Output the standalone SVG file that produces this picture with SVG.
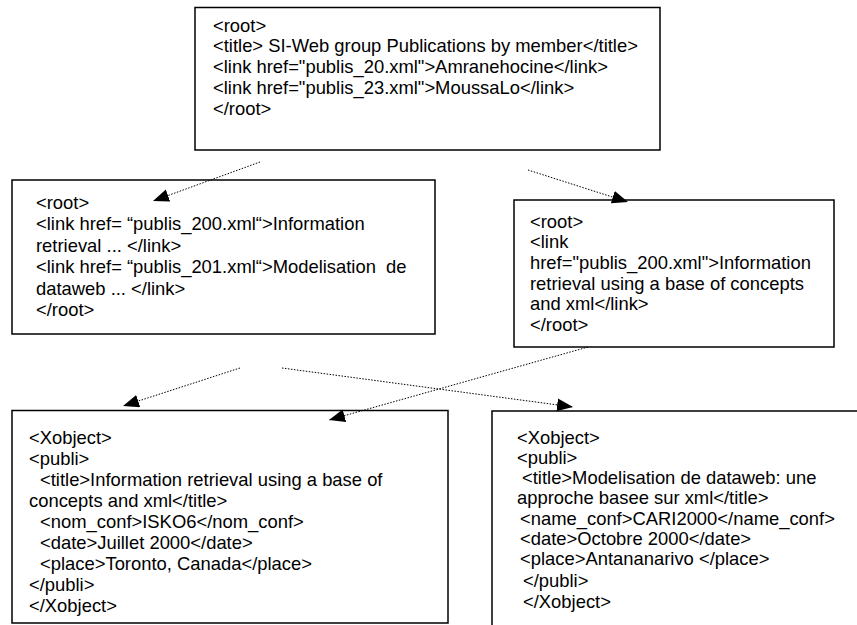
<svg xmlns="http://www.w3.org/2000/svg" width="857" height="625" viewBox="0 0 857 625">
<style>
.box{fill:#fff;stroke:#000;stroke-width:1.5}
text{font-family:"Liberation Sans",Arial,sans-serif;font-size:18.4px;fill:#000;white-space:pre}
.con{fill:none;stroke:#000;stroke-width:1;stroke-dasharray:1.5 1.5}
</style>
<defs>
<marker id="ah" markerUnits="userSpaceOnUse" markerWidth="18" markerHeight="14" refX="16" refY="6.5" orient="auto">
<path d="M0,0 L16,6.5 L0,13 Z" fill="#000"/>
</marker>
</defs>
<rect width="857" height="625" fill="#fff"/>
<g id="n-top">
<rect class="box" x="195" y="7.5" width="465" height="142.5"/>
<text x="213" y="31.5">&lt;root&gt;</text>
<text x="213" y="52.3">&lt;title&gt; SI-Web group Publications by member&lt;/title&gt;</text>
<text x="213" y="73.1">&lt;link href="publis_20.xml"&gt;Amranehocine&lt;/link&gt;</text>
<text x="213" y="93.9">&lt;link href="publis_23.xml"&gt;MoussaLo&lt;/link&gt;</text>
<text x="213" y="114.7">&lt;/root&gt;</text>
</g>
<g id="n-left">
<rect class="box" x="12" y="180" width="423" height="154"/>
<text x="36" y="208.5">&lt;root&gt;</text>
<text x="36" y="230">&lt;link href= “publis_200.xml“&gt;Information</text>
<text x="36" y="251.5">retrieval ... &lt;/link&gt;</text>
<text x="36" y="273">&lt;link href= “publis_201.xml“&gt;Modelisation  de</text>
<text x="36" y="294.5">dataweb ... &lt;/link&gt;</text>
<text x="36" y="316">&lt;/root&gt;</text>
</g>
<g id="n-right">
<rect class="box" x="514" y="200" width="320" height="147"/>
<text x="530" y="227.5">&lt;root&gt;</text>
<text x="530" y="248.2">&lt;link</text>
<text x="530" y="268.9">href="publis_200.xml"&gt;Information</text>
<text x="530" y="289.6">retrieval using a base of concepts</text>
<text x="530" y="310.3">and xml&lt;/link&gt;</text>
<text x="530" y="331">&lt;/root&gt;</text>
</g>
<g id="n-bl">
<rect class="box" x="12" y="410.5" width="436" height="212.5"/>
<text x="29" y="443.5">&lt;Xobject&gt;</text>
<text x="29" y="464.5">&lt;publi&gt;</text>
<text x="40" y="485.5">&lt;title&gt;Information retrieval using a base of</text>
<text x="29" y="506.5">concepts and xml&lt;/title&gt;</text>
<text x="40" y="527.5">&lt;nom_conf&gt;ISKO6&lt;/nom_conf&gt;</text>
<text x="40" y="548.5">&lt;date&gt;Juillet 2000&lt;/date&gt;</text>
<text x="40" y="569.5">&lt;place&gt;Toronto, Canada&lt;/place&gt;</text>
<text x="29" y="590.5">&lt;/publi&gt;</text>
<text x="29" y="611.5">&lt;/Xobject&gt;</text>
</g>
<g id="n-br">
<rect class="box" x="492" y="411" width="380" height="230"/>
<text x="517" y="443.5">&lt;Xobject&gt;</text>
<text x="517" y="463.8">&lt;publi&gt;</text>
<text x="522" y="484.1">&lt;title&gt;Modelisation de dataweb: une</text>
<text x="517" y="504.4">approche basee sur xml&lt;/title&gt;</text>
<text x="520" y="524.7">&lt;name_conf&gt;CARI2000&lt;/name_conf&gt;</text>
<text x="520" y="545">&lt;date&gt;Octobre 2000&lt;/date&gt;</text>
<text x="520" y="565.3">&lt;place&gt;Antananarivo &lt;/place&gt;</text>
<text x="523" y="587">&lt;/publi&gt;</text>
<text x="523" y="608">&lt;/Xobject&gt;</text>
</g>
<g id="connectors">
<line class="con" x1="260" y1="162" x2="153" y2="201" marker-end="url(#ah)"/>
<line class="con" x1="528" y1="170" x2="628" y2="202" marker-end="url(#ah)"/>
<line class="con" x1="240" y1="368" x2="123" y2="406" marker-end="url(#ah)"/>
<line class="con" x1="282" y1="368" x2="573" y2="407" marker-end="url(#ah)"/>
<line class="con" x1="588" y1="347" x2="329" y2="420" marker-end="url(#ah)"/>
</g>
</svg>
